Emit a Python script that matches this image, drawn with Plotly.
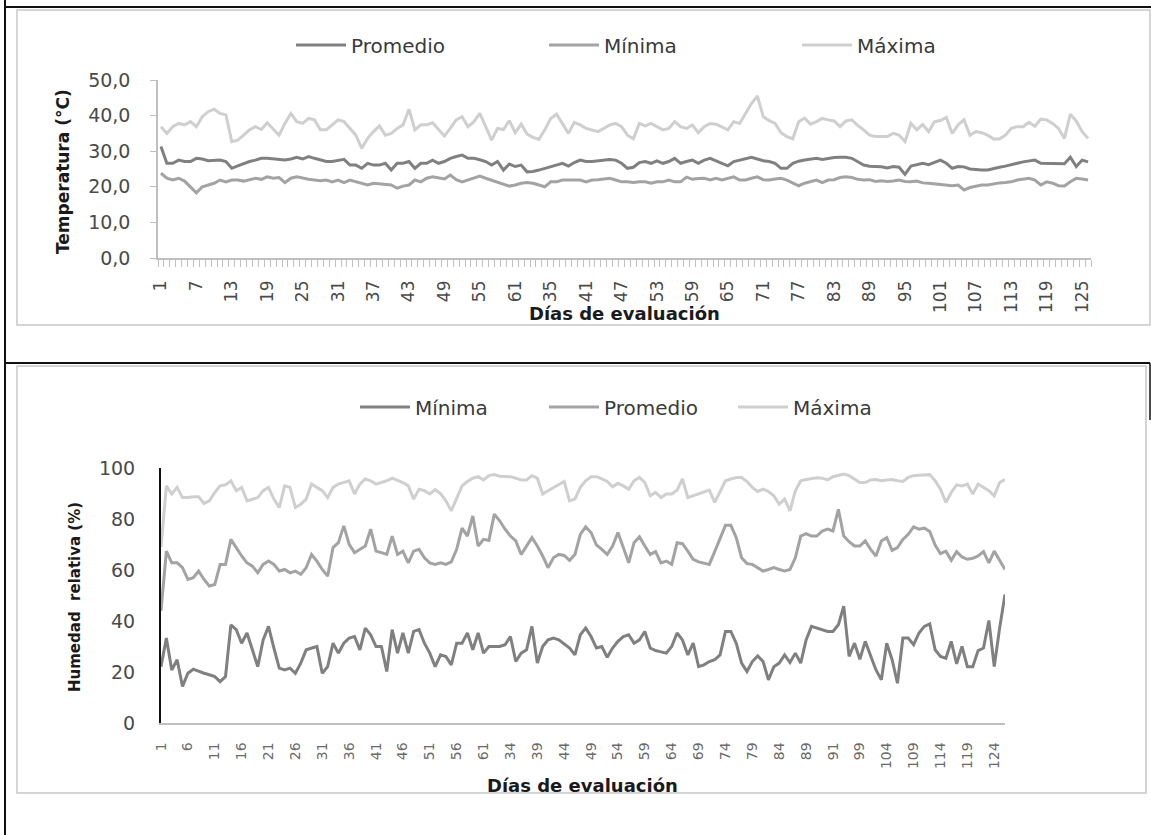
import plotly.graph_objects as go

W, H = 1151, 835
def px(x): return x / W
def py(y): return 1 - y / H

# ---------------- data ----------------
days = list(range(1, 159))  # sequential evaluation index (158 records)

top_tick_labels = ["1", "7", "13", "19", "25", "31", "37", "43", "49", "55", "61", "35", "41", "47",
                   "53", "59", "65", "71", "77", "83", "89", "95", "101", "107", "113", "119", "125"]
bottom_tick_labels = ["1", "6", "11", "16", "21", "26", "31", "36", "41", "46", "51", "56", "61", "34",
                      "39", "44", "49", "54", "59", "64", "69", "74", "79", "84", "89", "91", "99",
                      "104", "109", "114", "119", "124"]

# Temperatura (°C)
t_prom = [31.3, 26.6, 26.6, 27.5, 27.1, 27.1, 28.0, 27.8, 27.3, 27.3,
          27.5, 27.1, 25.2, 25.9, 26.6, 27.1, 27.5, 28.0, 28.0, 27.8,
          27.5, 27.5, 27.8, 28.3, 27.8, 28.5, 28.0, 27.5, 27.1, 27.1,
          27.5, 27.7, 26.1, 26.1, 25.2, 26.6, 26.1, 26.1, 26.6, 24.7,
          26.6, 26.6, 27.1, 25.2, 26.6, 26.6, 27.5, 26.6, 27.1, 28.0,
          28.5, 28.9, 28.0, 28.0, 27.6, 27.1, 26.1, 27.1, 24.7, 26.4,
          25.7, 26.1, 24.2, 24.3, 24.7, 25.2, 25.8, 26.1, 26.6, 25.8,
          26.8, 27.5, 27.1, 27.1, 27.3, 27.5, 27.7, 27.5, 26.6, 25.2,
          25.5, 26.8, 27.1, 26.6, 27.3, 26.6, 27.1, 28.0, 26.6, 27.1,
          27.5, 26.6, 27.5, 28.0, 27.3, 26.6, 25.9, 27.1, 27.5, 27.7,
          28.3, 27.8, 27.3, 27.1, 26.6, 25.2, 25.2, 26.6, 27.2, 27.5,
          27.7, 28.0, 27.7, 28.0, 28.2, 28.3, 28.3, 28.0, 27.1, 26.1,
          25.8, 25.8, 25.6, 25.3, 25.7, 25.5, 23.5, 25.8, 26.1, 26.6,
          26.2, 26.8, 27.5, 26.6, 25.2, 25.7, 25.6, 25.0, 24.8, 24.7,
          24.7, 25.2, 25.5, 25.8, 26.1, 26.6, 27.0, 27.3, 27.5, 26.6,
          26.6, 26.6, 26.4, 26.5, 28.3, 25.7, 27.5, 27.0]
t_min = [23.8, 22.4, 21.9, 22.4, 21.6, 20.0, 18.3, 20.0, 20.5, 21.0,
         21.9, 21.4, 21.9, 21.9, 21.6, 21.9, 22.4, 22.1, 22.8, 22.4,
         22.6, 21.2, 22.4, 22.8, 22.4, 22.1, 21.9, 21.7, 21.9, 21.4,
         21.9, 21.2, 21.9, 21.4, 21.0, 20.5, 21.0, 20.8, 20.5, 20.5,
         19.6, 20.2, 20.5, 21.9, 21.4, 22.4, 22.8, 22.6, 22.2, 23.3,
         22.0, 21.4, 21.9, 22.4, 23.0, 22.4, 21.9, 21.4, 20.9, 20.2,
         20.5, 21.0, 21.2, 21.0, 20.5, 20.0, 21.4, 21.4, 21.9, 21.9,
         22.0, 21.9, 21.4, 21.9, 22.0, 22.2, 22.4, 21.9, 21.4, 21.4,
         21.2, 21.4, 21.4, 21.0, 21.4, 21.4, 21.9, 21.4, 21.4, 22.7,
         22.1, 22.3, 22.4, 21.9, 22.4, 21.9, 22.4, 22.8, 21.9, 21.9,
         22.4, 22.8, 22.0, 21.9, 22.2, 22.4, 21.9, 21.2, 20.3, 21.0,
         21.4, 21.9, 21.2, 21.9, 22.0, 22.6, 22.8, 22.6, 22.1, 21.9,
         22.0, 21.5, 21.7, 21.5, 21.6, 21.9, 21.5, 21.4, 21.6, 21.1,
         21.0, 20.8, 20.8, 20.4, 20.3, 20.5, 19.1, 19.8, 20.2, 20.5,
         20.5, 20.9, 21.1, 21.2, 21.4, 21.9, 22.1, 22.4, 21.9, 20.5,
         21.4, 21.0, 20.3, 20.2, 21.4, 22.4, 22.2, 21.9]
t_max = [36.9, 35.0, 36.9, 37.8, 37.4, 38.3, 36.9, 39.7, 41.1, 41.8,
         40.6, 40.2, 32.7, 33.1, 34.5, 36.0, 36.9, 36.1, 38.0, 36.1,
         34.5, 37.8, 40.6, 38.3, 37.8, 39.2, 38.8, 36.0, 36.0, 37.4,
         38.8, 38.3, 36.4, 34.5, 30.8, 33.6, 35.5, 37.1, 34.5, 35.0,
         36.4, 37.4, 41.8, 36.0, 37.4, 37.4, 38.0, 36.0, 34.3, 36.4,
         38.8, 39.7, 36.9, 38.3, 40.6, 36.9, 33.1, 36.4, 36.1, 38.6,
         35.2, 37.6, 34.8, 33.9, 33.3, 36.0, 39.2, 40.4, 37.8, 35.0,
         38.1, 37.4, 36.4, 36.0, 35.5, 36.4, 37.4, 37.8, 36.9, 34.5,
         33.5, 37.8, 37.1, 37.8, 36.9, 36.0, 36.4, 38.3, 36.9, 36.4,
         37.4, 35.2, 36.9, 37.8, 37.6, 36.9, 36.0, 38.3, 37.8, 40.6,
         43.4, 45.5, 39.7, 38.6, 37.8, 35.2, 34.1, 33.5, 38.3, 39.3,
         37.6, 38.3, 39.2, 38.8, 38.5, 36.9, 38.5, 38.8, 37.2, 36.0,
         34.5, 34.1, 34.1, 34.1, 35.0, 34.5, 32.7, 37.8, 36.0, 37.5,
         35.5, 38.3, 38.6, 39.5, 35.0, 37.4, 38.8, 34.5, 35.5, 35.2,
         34.5, 33.4, 33.4, 34.5, 36.4, 36.9, 36.9, 38.1, 37.0, 39.0,
         38.8, 37.8, 36.4, 33.6, 40.4, 38.5, 35.5, 33.6]

# Humedad relativa (%)
h_min = [22.1, 33.3, 20.8, 24.8, 14.3, 19.5, 21.1, 20.2, 19.5, 18.9,
         18.2, 16.2, 18.2, 38.5, 36.6, 31.3, 35.3, 28.7, 22.1, 32.6,
         37.9, 29.4, 21.5, 20.8, 21.5, 19.5, 23.5, 28.7, 29.4, 30.0,
         19.5, 22.1, 31.3, 27.4, 31.3, 33.3, 33.9, 28.7, 37.2, 34.6,
         30.0, 30.0, 20.2, 36.6, 27.4, 35.3, 27.4, 35.9, 36.6, 31.3,
         27.4, 22.1, 26.7, 26.1, 22.8, 31.3, 31.3, 35.3, 28.7, 35.3,
         27.4, 30.0, 30.0, 30.0, 30.7, 33.9, 24.1, 27.4, 28.7, 37.9,
         23.5, 30.0, 32.6, 33.3, 32.6, 31.0, 29.4, 26.7, 34.6, 37.2,
         33.9, 29.4, 30.0, 25.8, 29.4, 32.0, 33.9, 34.6, 31.3, 32.6,
         35.9, 29.4, 28.4, 27.9, 27.4, 30.0, 35.3, 32.6, 26.7, 31.3,
         22.1, 22.8, 24.1, 24.8, 26.7, 35.9, 35.9, 31.3, 23.5, 20.2,
         24.1, 26.3, 24.1, 16.9, 22.1, 23.5, 26.7, 23.7, 27.4, 23.5,
         32.6, 37.9, 37.2, 36.8, 35.9, 35.9, 38.5, 45.8, 26.1, 31.3,
         25.0, 32.0, 26.7, 20.8, 16.9, 31.3, 24.8, 15.6, 33.3, 33.3,
         30.7, 35.3, 37.9, 38.9, 28.7, 26.1, 25.4, 32.0, 23.2, 30.0,
         22.1, 22.1, 28.4, 29.4, 40.2, 22.1, 37.2, 50.4]
h_prom = [44.0, 67.4, 62.8, 62.8, 60.9, 56.3, 57.0, 59.6, 56.3, 53.7,
          54.3, 62.2, 62.2, 72.0, 68.8, 65.5, 62.8, 61.5, 58.9, 62.2,
          63.5, 62.2, 59.6, 60.2, 58.9, 59.6, 58.3, 60.9, 66.1, 63.5,
          60.2, 57.6, 68.8, 70.7, 77.3, 70.1, 66.8, 68.1, 69.4, 76.0,
          67.4, 66.8, 66.1, 73.3, 66.1, 67.4, 62.8, 67.4, 68.1, 64.8,
          62.8, 62.2, 62.8, 62.2, 63.2, 68.1, 76.4, 73.3, 81.2, 69.4,
          72.0, 71.6, 81.9, 79.3, 76.0, 73.3, 71.4, 66.1, 69.4, 72.7,
          69.4, 65.5, 60.9, 64.8, 66.1, 65.7, 63.8, 66.1, 74.0, 76.9,
          74.7, 69.8, 68.1, 66.1, 69.4, 74.7, 68.8, 62.8, 70.7, 73.0,
          69.4, 66.1, 67.2, 62.8, 63.5, 62.2, 70.7, 70.3, 67.4, 64.2,
          63.2, 62.8, 62.2, 67.2, 72.0, 77.5, 77.5, 72.7, 64.8, 62.5,
          62.2, 60.9, 59.6, 60.2, 60.9, 60.2, 59.6, 60.2, 64.8, 73.3,
          74.3, 73.3, 73.3, 75.3, 76.0, 75.3, 83.8, 73.3, 71.1, 69.4,
          69.4, 71.4, 68.1, 65.5, 71.4, 72.7, 67.7, 68.8, 72.0, 74.0,
          76.9, 76.0, 76.4, 75.1, 69.8, 66.4, 67.4, 63.8, 67.2, 65.1,
          64.2, 64.6, 65.5, 67.2, 62.8, 67.4, 63.5, 60.2]
h_max = [69.0, 93.0, 89.8, 92.4, 88.4, 88.4, 88.7, 88.7, 86.1, 87.1,
         90.4, 93.0, 93.4, 95.0, 91.1, 92.4, 87.1, 87.8, 88.4, 91.1,
         92.4, 87.8, 84.5, 93.0, 92.4, 84.5, 85.8, 87.8, 93.7, 92.4,
         91.1, 88.4, 92.4, 93.7, 94.3, 95.0, 89.8, 93.7, 95.7, 95.0,
         93.7, 94.3, 95.0, 96.0, 95.3, 94.3, 93.0, 87.8, 91.7, 91.1,
         89.8, 91.5, 90.0, 87.1, 83.2, 88.4, 93.0, 94.7, 96.0, 96.6,
         95.3, 97.0, 97.4, 96.8, 96.6, 96.6, 96.0, 95.3, 95.3, 97.0,
         96.0, 89.8, 91.1, 92.4, 93.7, 94.7, 87.1, 87.8, 92.4, 95.0,
         96.6, 96.6, 95.7, 94.7, 92.6, 94.0, 93.0, 91.7, 95.0, 96.3,
         94.3, 89.1, 90.4, 88.4, 89.8, 89.8, 91.3, 95.7, 88.4, 89.1,
         90.0, 90.8, 91.3, 86.5, 91.0, 95.0, 95.7, 96.3, 96.3, 94.7,
         92.4, 90.8, 91.7, 90.8, 89.1, 85.8, 87.8, 83.2, 91.1, 95.0,
         95.5, 95.9, 96.2, 96.0, 95.3, 96.6, 97.0, 97.6, 97.0, 95.7,
         94.3, 94.3, 95.3, 95.5, 95.0, 95.3, 95.5, 95.0, 94.7, 96.3,
         97.0, 97.2, 97.4, 97.4, 95.0, 91.7, 86.5, 90.4, 93.4, 93.0,
         93.7, 89.8, 93.7, 92.4, 91.1, 89.1, 94.3, 95.5]

top_tick_pos = days[0::6][:len(top_tick_labels)]
bottom_tick_pos = days[0::5][:len(bottom_tick_labels)]

# ---------------- figure ----------------
FONT = "DejaVu Sans"
DARK, MID, LIGHT = "#808080", "#a3a3a3", "#cfcfcf"
TXT = "#4a4a4a"

fig = go.Figure()
for name, vals, col, rank in [("Máxima", t_max, LIGHT, 3), ("Mínima", t_min, MID, 2), ("Promedio", t_prom, DARK, 1)]:
    fig.add_trace(go.Scatter(x=days, y=vals, name=name, mode="lines", legendrank=rank,
                             line=dict(color=col, width=3), xaxis="x", yaxis="y", legend="legend"))
for name, vals, col, rank in [("Máxima", h_max, LIGHT, 3), ("Promedio", h_prom, MID, 2), ("Mínima", h_min, DARK, 1)]:
    fig.add_trace(go.Scatter(x=days, y=vals, name=name, mode="lines", legendrank=rank,
                             line=dict(color=col, width=3), xaxis="x2", yaxis="y2", legend="legend2"))

legfont = dict(family=FONT, size=20, color="#3a3a3a")

fig.update_layout(
    width=W, height=H, margin=dict(l=0, r=0, t=0, b=0, pad=0, autoexpand=False),
    paper_bgcolor="white", plot_bgcolor="white",
    separators=",.",
    xaxis=dict(domain=[px(158), px(1091)], range=[0.5, 158.5], anchor="y", automargin=False,
               tickmode="array", tickvals=top_tick_pos, ticktext=top_tick_labels,
               tickangle=-90, tickfont=dict(family=FONT, size=17, color=TXT),
               ticks="", ticklabelstandoff=14,
               showline=True, linecolor="#bfbfbf", linewidth=1.5, showgrid=False, zeroline=False,
               minor=dict(tickmode="linear", tick0=0.5, dtick=1, ticks="outside", ticklen=7,
                          tickcolor="#bfbfbf", tickwidth=1, showgrid=False)),
    yaxis=dict(domain=[py(258), py(80)], range=[0, 50], anchor="x", automargin=False,
               tickmode="linear", tick0=0, dtick=10, tickformat=".1f",
               tickfont=dict(family=FONT, size=19, color=TXT),
               ticks="outside", ticklen=6, tickcolor="#bfbfbf", ticklabelstandoff=16,
               showline=True, linecolor="#bfbfbf", linewidth=1.5, showgrid=False, zeroline=False),
    xaxis2=dict(domain=[px(161), px(1005)], range=[1, 158], anchor="y2", automargin=False,
                tickmode="array", tickvals=bottom_tick_pos, ticktext=bottom_tick_labels,
                tickangle=-90, tickfont=dict(family=FONT, size=14, color="#6a6a6a"), ticks="",
                ticklabelstandoff=12,
                showline=True, linecolor="#bfbfbf", linewidth=1.5, showgrid=False, zeroline=False),
    yaxis2=dict(domain=[py(723), py(468)], range=[0, 100], anchor="x2", automargin=False,
                tickmode="linear", tick0=0, dtick=20,
                tickfont=dict(family=FONT, size=19, color=TXT), ticks="", ticklabelstandoff=20,
                showline=True, linecolor="#111111", linewidth=2, showgrid=False, zeroline=False),
    legend=dict(orientation="h", x=px(291), xanchor="left", y=py(45), yanchor="middle",
                font=legfont, itemwidth=50, entrywidth=188, entrywidthmode="pixels",
                bgcolor="rgba(0,0,0,0)", traceorder="normal"),
    legend2=dict(orientation="h", x=px(355), xanchor="left", y=py(407), yanchor="middle",
                 font=legfont, itemwidth=50, entrywidth=124, entrywidthmode="pixels",
                 bgcolor="rgba(0,0,0,0)", traceorder="normal"),
    showlegend=True,
)

def title(text, x, y, size, angle=0):
    fig.add_annotation(text=f"<b>{text}</b>", x=px(x), y=py(y), xref="paper", yref="paper",
                       xanchor="center", yanchor="middle", textangle=angle, showarrow=False,
                       font=dict(family=FONT, size=size, color="#1a1a1a"))

title("Temperatura (°C)", 63, 172, 17, -90)
title("Días de evaluación", 624, 313, 18)
title("Humedad  relativa (%)", 75, 597, 15, -90)
title("Días de evaluación", 582, 785, 18)

shapes = [
    dict(type="line", x0=px(5), x1=px(5), y0=py(0), y1=py(835), line=dict(color="#111", width=2)),
    dict(type="line", x0=px(5), x1=px(1151), y0=py(7), y1=py(7), line=dict(color="#111", width=2)),
    dict(type="rect", x0=px(17), x1=px(1150), y0=py(10), y1=py(325), line=dict(color="#c8c8c8", width=1.5)),
    dict(type="line", x0=px(5), x1=px(1150), y0=py(363), y1=py(363), line=dict(color="#111", width=2)),
    dict(type="line", x0=px(1150), x1=px(1150), y0=py(363), y1=py(420), line=dict(color="#111", width=1.5)),
    dict(type="rect", x0=px(17), x1=px(1146), y0=py(366), y1=py(793), line=dict(color="#c8c8c8", width=1.5)),
]
for s in shapes:
    s.update(xref="paper", yref="paper", layer="below")
fig.update_layout(shapes=shapes)

fig.write_html("out.html", config={"displayModeBar": False},
               post_script="document.body.style.margin='0';document.body.style.padding='0';")
